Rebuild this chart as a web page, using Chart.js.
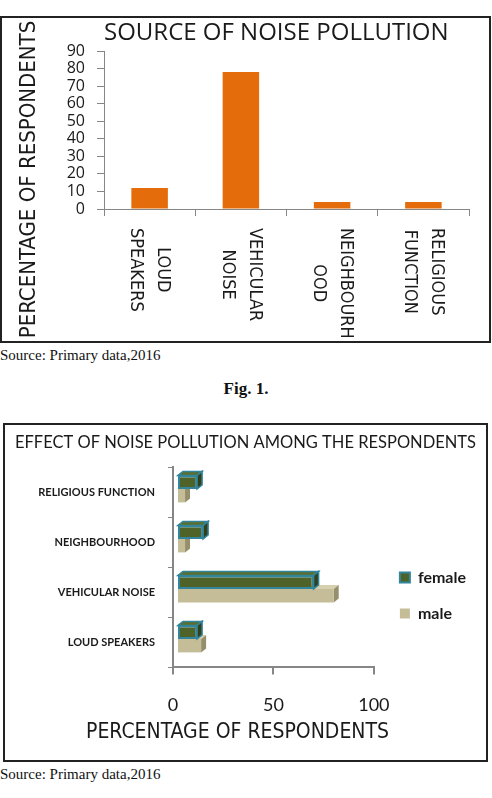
<!DOCTYPE html>
<html>
    <head>
        <title>Noise pollution</title>
        <meta charset="utf-8">
        <script src="https://cdn.jsdelivr.net/npm/chart.js@4.4.1/dist/chart.umd.min.js"></script>
        <style>
            body { margin: 0; width: 492px; height: 798px; background: #fff; position: relative; overflow: hidden; }
            .box { position: absolute; border: 2px solid #222; }
            .box canvas { display: block; }
            .src { position: absolute; left: 0; font: 15px "Liberation Serif", serif; line-height: 17px; color: #111; }
            .fig { position: absolute; left: 0; width: 492px; text-align: center; font: bold 17px "Liberation Serif", serif; line-height: 18px; color: #111; }
        </style>
    </head>
    <body>
        <div class="box" style="left:0; top:16px; width:487px; height:323px;">
            <canvas id="sourceChart" width="487" height="323"></canvas>
        </div>
        <div class="src" style="top:347px;">Source: Primary data,2016</div>
        <div class="fig" style="top:380px;">Fig. 1.</div>

        <div class="box" style="left:3px; top:423px; width:481px; height:335px;">
            <canvas id="effectChart" width="481" height="335"></canvas>
        </div>
        <div class="src" style="top:766px;">Source: Primary data,2016</div>

        <script>
            // chart 1 - source of noise pollution
            const sources = ['LOUD SPEAKERS', 'VEHICULAR NOISE', 'NEIGHBOURHOOD', 'RELIGIOUS FUNCTION'];
            const sourceTickLines = [['LOUD', 'SPEAKERS'], ['VEHICULAR', 'NOISE'], ['NEIGHBOURH', 'OOD'], ['RELIGIOUS', 'FUNCTION']];
            const respondents = [12, 78, 4, 4];

            // chart 2 - effect among respondents (top to bottom)
            const effectCategories = ['RELIGIOUS FUNCTION', 'NEIGHBOURHOOD', 'VEHICULAR NOISE', 'LOUD SPEAKERS'];
            const female = [10, 13, 68, 10];
            const male = [4, 4, 78, 12];

            const narrow = '"Liberation Sans Narrow", "DejaVu Sans Condensed", sans-serif';
            const ink = '#1a1a1a';
            const axisGrey = '#868686';

            // x labels of chart 1 run top to bottom, chart.js only turns them the other way
            let verticalLabels = {
                id: 'verticalLabels',
                afterDraw(chart) {
                    let ctx = chart.ctx;
                    let xs = chart.scales.x;
                    ctx.save();
                    ctx.font = '18px ' + narrow;
                    ctx.fillStyle = ink;
                    ctx.textAlign = 'center';
                    ctx.textBaseline = 'middle';
                    sourceTickLines.forEach((lines, i) => {
                        let w = Math.max(...lines.map(l => ctx.measureText(l).width));
                        ctx.save();
                        ctx.translate(xs.getPixelForValue(i), xs.top + 19);
                        ctx.rotate(Math.PI / 2);
                        lines.forEach((line, j) => {
                            ctx.fillText(line, w / 2, (j - (lines.length - 1) / 2) * 27);
                        });
                        ctx.restore();
                    });
                    ctx.restore();
                }
            };

            // fake excel 3d look: top and side faces behind each bar
            let depth3d = {
                id: 'depth3d',
                afterLayout(chart, args, opts) {
                    // title centred on the whole box, legend a bit further right
                    chart.titleBlock.right = chart.width;
                    chart.legend.left += opts.legendShiftX;
                    chart.legend.top += opts.legendShiftY;
                    chart.legend.bottom += opts.legendShiftY;
                },
                beforeDatasetsDraw(chart, args, opts) {
                    chart.ctx.save();
                    chart.ctx.translate(opts.shiftX, opts.shiftY);
                },
                beforeDatasetDraw(chart, args, opts) {
                    let ctx = chart.ctx;
                    let ds = chart.data.datasets[args.index];
                    let dx = opts.dx, dy = opts.dy;
                    args.meta.data.forEach(bar => {
                        let {x, y, base, height} = bar.getProps(['x', 'y', 'base', 'height'], true);
                        let top = y - height / 2, bottom = y + height / 2;
                        ctx.lineWidth = 1.5;
                        ctx.strokeStyle = ds.borderColor || ds.sideColor;
                        ctx.beginPath();
                        ctx.moveTo(base, top);
                        ctx.lineTo(base + dx, top + dy);
                        ctx.lineTo(x + dx, top + dy);
                        ctx.lineTo(x, top);
                        ctx.closePath();
                        ctx.fillStyle = ds.topColor;
                        ctx.fill();
                        if (ds.borderColor) ctx.stroke();
                        ctx.beginPath();
                        ctx.moveTo(x, top);
                        ctx.lineTo(x + dx, top + dy);
                        ctx.lineTo(x + dx, bottom + dy);
                        ctx.lineTo(x, bottom);
                        ctx.closePath();
                        ctx.fillStyle = ds.sideColor;
                        ctx.fill();
                        if (ds.borderColor) ctx.stroke();
                    });
                },
                afterDatasetsDraw(chart) {
                    chart.ctx.restore();
                }
            };

            new Chart(document.getElementById('sourceChart'), {
                type: 'bar',
                data: {
                    labels: sources,
                    datasets: [{
                        data: respondents,
                        backgroundColor: '#E46C0A',
                        categoryPercentage: 0.4,
                        barPercentage: 1
                    }]
                },
                options: {
                    responsive: false,
                    animation: false,
                    layout: { padding: { left: 0, right: 20, top: 0, bottom: 0 } },
                    plugins: {
                        legend: { display: false },
                        tooltip: { enabled: false },
                        title: {
                            display: true,
                            position: 'left',
                            text: 'PERCENTAGE OF RESPONDENTS',
                            color: ink,
                            font: { family: narrow, size: 22, weight: 'normal' },
                            padding: { top: 14, bottom: 0 }
                        },
                        subtitle: {
                            display: true,
                            position: 'top',
                            fullSize: false,
                            align: 'start',
                            text: 'SOURCE OF NOISE POLLUTION',
                            color: ink,
                            font: { family: 'Open Sans', size: 24 },
                            padding: { top: 1, bottom: 3.2 }
                        }
                    },
                    scales: {
                        x: {
                            ticks: { display: false },
                            grid: { drawOnChartArea: false, color: axisGrey, tickLength: 7 },
                            border: { color: axisGrey },
                            afterFit: (s) => { s.height = 132; }
                        },
                        y: {
                            min: 0,
                            max: 90,
                            ticks: { stepSize: 10, autoSkip: false, padding: 12, color: ink, font: { family: 'Open Sans', size: 16 } },
                            grid: { drawOnChartArea: false, color: axisGrey, tickLength: 7 },
                            border: { color: axisGrey },
                            afterFit: (s) => { s.width = 61.6; }
                        }
                    }
                },
                plugins: [verticalLabels]
            });

            new Chart(document.getElementById('effectChart'), {
                type: 'bar',
                data: {
                    labels: effectCategories,
                    datasets: [{
                        label: 'female',
                        data: female,
                        backgroundColor: '#4F6228',
                        borderColor: '#31859C',
                        borderWidth: 2,
                        borderSkipped: false,
                        topColor: '#5A6F2F',
                        sideColor: '#33401A'
                    }, {
                        label: 'male',
                        data: male,
                        backgroundColor: '#C4BD97',
                        borderWidth: 0,
                        topColor: '#D6D0AE',
                        sideColor: '#968F6B'
                    }]
                },
                options: {
                    indexAxis: 'y',
                    responsive: false,
                    animation: false,
                    datasets: { bar: { categoryPercentage: 0.54, barPercentage: 1, clip: false } },
                    layout: { padding: { left: 0, right: 16, top: 0, bottom: 0 } },
                    plugins: {
                        tooltip: { enabled: false },
                        title: {
                            display: true,
                            text: 'EFFECT OF NOISE POLLUTION AMONG THE RESPONDENTS',
                            color: ink,
                            font: { family: 'Lato', size: 16.5, weight: 'normal' },
                            padding: { top: 8, bottom: 14.6 }
                        },
                        subtitle: {
                            display: true,
                            position: 'bottom',
                            text: 'PERCENTAGE OF RESPONDENTS',
                            color: ink,
                            font: { family: narrow, size: 21 },
                            padding: { top: 7.4, bottom: 15 }
                        },
                        legend: {
                            position: 'right',
                            labels: {
                                boxWidth: 10,
                                boxHeight: 10,
                                padding: 20,
                                color: ink,
                                font: { family: 'Lato', size: 16, weight: 'bold' }
                            }
                        },
                        depth3d: { dx: 5, dy: -4, shiftX: 4, shiftY: -3.5, legendShiftX: 6, legendShiftY: 3 }
                    },
                    scales: {
                        x: {
                            min: 0,
                            max: 100,
                            ticks: { stepSize: 50, padding: 20, color: ink, font: { family: 'Lato', size: 18 } },
                            grid: { drawOnChartArea: false, color: axisGrey, tickLength: 7, lineWidth: 2 },
                            border: { color: axisGrey, width: 2 },
                            afterFit: (s) => { s.height = 45; }
                        },
                        y: {
                            ticks: { padding: 13, color: ink, font: { family: 'Lato', size: 11, weight: 'bold' } },
                            grid: { drawOnChartArea: false, color: axisGrey, tickLength: 5 },
                            border: { color: axisGrey, width: 2 },
                            afterFit: (s) => { s.width = 168; }
                        }
                    }
                },
                plugins: [depth3d]
            });
        </script>
    </body>
</html>
